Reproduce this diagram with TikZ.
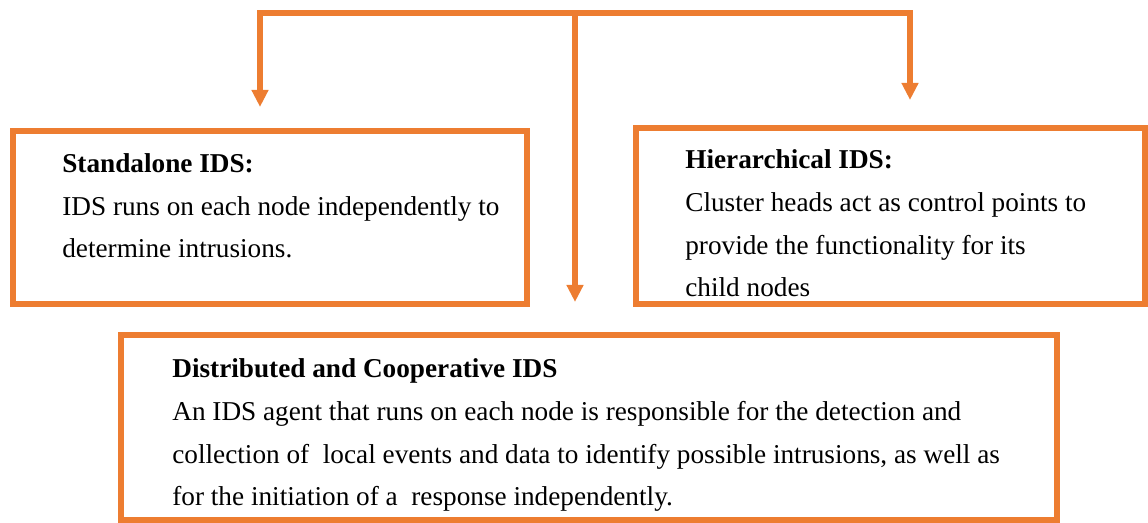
\documentclass[tikz,border=0pt]{standalone}
\usepackage{fontspec}
\setmainfont{Liberation Serif}
\usetikzlibrary{arrows.meta}
\definecolor{idsorange}{RGB}{237,125,49}

\begin{document}
\begin{tikzpicture}[
		box/.style={draw=idsorange, line width=3.4pt, rectangle, inner sep=0pt},
		flow/.style={draw=idsorange, line width=3.1pt, -{Triangle[length=0.34cm,width=0.32cm]}},
		desc/.style={anchor=base west, align=left, inner sep=0pt, font=\fontsize{15.5}{24.4}\selectfont}
	]

			\useasboundingbox (0,0) rectangle (22.96,10.46);

			% Boxes
			\node[box, minimum width=10.28cm, minimum height=3.46cm] (standalone) at (5.4,6.11) {};
			\node[box, minimum width=10.18cm, minimum height=3.52cm] (hierarchical) at (17.81,6.14) {};
			\node[box, minimum width=18.72cm, minimum height=3.7cm] (distributed) at (11.78,1.91) {};

			% Texts (anchored on the last line)
			\node[desc] (standalonetxt) at (1.24,5.30) {\textbf{Standalone IDS:}\\
				IDS runs on each node independently to\\
				determine intrusions.};
			\node[desc] (hierarchicaltxt) at (13.7,4.52) {\textbf{Hierarchical IDS:}\\
				Cluster heads act as control points to\\
				provide the functionality for its\\
				child nodes};
			\node[desc] (distributedtxt) at (3.44,0.34) {\textbf{Distributed and Cooperative IDS}\\
				An IDS agent that runs on each node is responsible for the detection and\\
				collection of\ \ local events and data to identify possible intrusions, as well as\\
				for the initiation of a\ \ response independently.};

			% Branching connector
			\coordinate (lturn) at (5.2,10.2);
			\coordinate (rturn) at (18.2,10.2);
			\coordinate (hub) at (11.5,10.2);
			\coordinate (ltip) at (5.2,8.32);
			\coordinate (rtip) at (18.2,8.46);
			\coordinate (mtip) at (11.5,4.42);

			\draw[flow] (rturn) -- (lturn) -- (ltip);
			\draw[flow] (lturn) -- (rturn) -- (rtip);
			\draw[flow] (hub) -- (mtip);

		\end{tikzpicture}
\end{document}
